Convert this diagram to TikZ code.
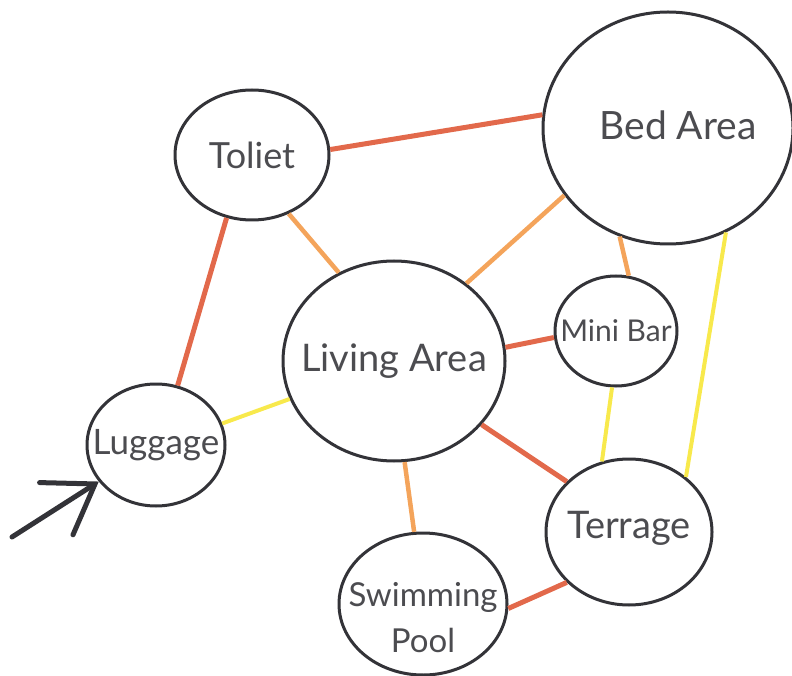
\documentclass[tikz,border=0pt]{standalone}
\usepackage{fontspec}
\setmainfont{Lato}
\usetikzlibrary{shapes.geometric,arrows.meta}
\definecolor{ered}{HTML}{E2694B}
\definecolor{eorange}{HTML}{F4A45B}
\definecolor{eyellow}{HTML}{F8E94C}
\definecolor{outl}{HTML}{333338}
\definecolor{txt}{HTML}{4C4C50}
\tikzset{
  room/.style={ellipse, draw=outl, line width=3pt, fill=white, inner sep=0pt},
  rlabel/.style={text=txt, align=center, inner sep=0pt},
  redge/.style={ered, line width=5pt},
  oedge/.style={eorange, line width=4.5pt},
  yedge/.style={eyellow, line width=4pt},
  entry/.style={outl, line width=5pt, line cap=round,
    -{Straight Barb[length=46pt,width=62pt,line cap=round]}}
}
\begin{document}
\begin{tikzpicture}[x=1pt,y=-1pt]
\useasboundingbox (0,0) rectangle (792,676);
% rooms
\node[room, minimum width=154pt, minimum height=130pt,
  label={[rlabel, font=\fontsize{36}{44}\selectfont]center:Toliet}] (toilet) at (252,155) {};
\node[room, minimum width=250pt, minimum height=232pt,
  label={[rlabel, font=\fontsize{39}{44}\selectfont, xshift=10pt, yshift=3pt]center:Bed Area}] (bed) at (668,128) {};
\node[room, minimum width=222pt, minimum height=200pt,
  label={[rlabel, font=\fontsize{38}{44}\selectfont]center:Living Area}] (living) at (394,361) {};
\node[room, minimum width=122pt, minimum height=110pt,
  label={[rlabel, font=\fontsize{30}{36}\selectfont]center:Mini Bar}] (minibar) at (616,331) {};
\node[room, minimum width=138pt, minimum height=122pt,
  label={[rlabel, font=\fontsize{35}{40}\selectfont]center:Luggage}] (luggage) at (156,445) {};
\node[room, minimum width=166pt, minimum height=146pt,
  label={[rlabel, font=\fontsize{38}{44}\selectfont, yshift=4pt]center:Terrage}] (terrage) at (629,532) {};
\node[room, minimum width=168pt, minimum height=142pt,
  label={[rlabel, font=\fontsize{33}{46}\selectfont, yshift=-14pt]center:Swimming\\Pool}] (pool) at (423,604) {};
% connectors
\draw[redge] (toilet.4) -- (bed.174);
\draw[redge] (toilet.-112) -- (luggage.70);
\draw[oedge] (toilet.-58) -- (living.122);
\draw[oedge] (bed.213) -- (living.47);
\draw[oedge] (bed.-114) -- (minibar.77);
\draw[yedge] (bed.-61) -- (terrage.44);
\draw[redge] (living.7) -- (minibar.186);
\draw[yedge] (living.200) -- (luggage.18);
\draw[redge] (living.-36) -- (terrage.141);
\draw[oedge] (living.-84) -- (pool.97);
\draw[yedge] (minibar.-94) -- (terrage.111);
\draw[redge] (pool.-3) -- (terrage.219);
% entry arrow
\coordinate (start) at (12,537);
\draw[entry] (start) -- (luggage);
\end{tikzpicture}
\end{document}
